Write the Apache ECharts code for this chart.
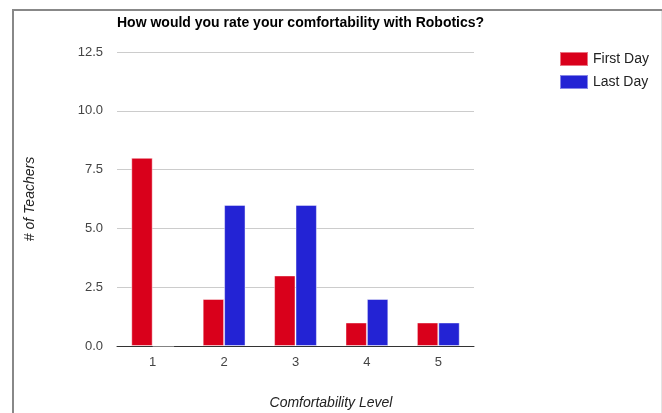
<!DOCTYPE html>
<html>
<head>
<meta charset="utf-8">
<script src="https://cdn.jsdelivr.net/npm/echarts@6/dist/echarts.min.js"></script>
<style>
  html, body { margin: 0; padding: 0; background: #fff; }
  #chart { width: 662px; height: 413px; }
</style>
</head>
<body>
<div id="chart"></div>
<script>
// Survey responses: number of teachers at each comfortability level
const levels = ['1', '2', '3', '4', '5'];
const firstDay = [8, 2, 3, 1, 1];
const lastDay = [0, 6, 6, 2, 1];
const yTicks = { min: 0, max: 12.5, step: 2.5 };

const chart = echarts.init(document.getElementById('chart'), null, { renderer: 'canvas' });
const font = 'Arial, "Liberation Sans", sans-serif';

chart.setOption({
  animation: false,
  backgroundColor: '#fff',
  title: {
    text: 'How would you rate your comfortability with Robotics?',
    left: 117,
    top: 16,
    padding: 0,
    textStyle: { fontFamily: font, fontSize: 14, fontWeight: 'bold', color: '#000' }
  },
  legend: {
    left: 559,
    top: 51,
    padding: 0,
    orient: 'vertical',
    itemWidth: 28,
    itemHeight: 14,
    itemGap: 7,
    icon: 'rect',
    textStyle: { fontFamily: font, fontSize: 14, color: '#222' },
    data: ['First Day', 'Last Day']
  },
  grid: { left: 117, right: 188, top: 52, bottom: 67 },
  xAxis: {
    type: 'category',
    data: levels,
    axisLine: { lineStyle: { color: '#333', width: 1 } },
    axisTick: { show: false },
    axisLabel: { fontFamily: font, fontSize: 13, color: '#444', margin: 10 }
  },
  yAxis: {
    type: 'value',
    min: yTicks.min,
    max: yTicks.max,
    interval: yTicks.step,
    axisLine: { show: false },
    axisTick: { show: false },
    splitLine: { lineStyle: { color: '#cccccc', width: 1 } },
    axisLabel: {
      fontFamily: font, fontSize: 13, color: '#444', margin: 14,
      formatter: v => v.toFixed(1)
    },
    name: '# of Teachers',
    nameLocation: 'middle',
    nameRotate: 90,
    nameGap: 80,
    nameTextStyle: { fontFamily: font, fontSize: 14, fontStyle: 'italic', color: '#222' }
  },
  series: [
    {
      name: 'First Day',
      type: 'bar',
      data: firstDay,
      barGap: '0%',
      barCategoryGap: '40%',
      itemStyle: { color: '#d9001b', borderColor: 'rgba(255,255,255,0.45)', borderWidth: 1 }
    },
    {
      name: 'Last Day',
      type: 'bar',
      data: lastDay,
      itemStyle: { color: '#2323d4', borderColor: 'rgba(255,255,255,0.45)', borderWidth: 1 }
    }
  ],
  graphic: [
    // frame lines around the chart area
    { type: 'line', shape: { x1: 12, y1: 10, x2: 662, y2: 10 }, style: { stroke: '#888', lineWidth: 2 } },
    { type: 'line', shape: { x1: 13, y1: 10, x2: 13, y2: 413 }, style: { stroke: '#888', lineWidth: 2 } },
    { type: 'line', shape: { x1: 661.5, y1: 11, x2: 661.5, y2: 413 }, style: { stroke: '#e4e4e4', lineWidth: 1 } },
    // horizontal axis title
    {
      type: 'text',
      style: {
        text: 'Comfortability Level',
        x: 331, y: 396, textAlign: 'center',
        font: 'italic 14px Arial, "Liberation Sans", sans-serif',
        fill: '#222'
      }
    }
  ]
});
</script>
</body>
</html>
